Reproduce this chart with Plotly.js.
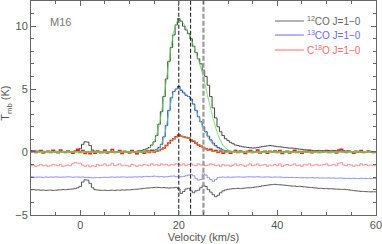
<!DOCTYPE html>
<html><head><meta charset="utf-8">
<script src="https://cdn.plot.ly/plotly-3.0.1.min.js"></script>
<style>html,body{margin:0;padding:0;background:#fff;}#chart{width:382px;height:244px;}</style>
</head><body><div id="chart"></div>
<script>
// channel grid: v = -10 + 0.5*i (km/s)
const v0 = -10, dv = 0.5;
const co12 = [
 0.05,0.04,0.03,0.05,0.04,0.02,0.03,0.02,0.0,0.01,0.02,0.03,0.02,0.0,-0.02,0.0,0.02,0.03,0.05,0.1,
 0.25,0.6,0.8,0.78,0.5,0.15,0.0,-0.05,-0.08,-0.06,-0.05,-0.05,-0.04,-0.05,-0.03,-0.03,-0.02,-0.03,-0.02,0.0,
 0.0,0.02,0.03,0.05,0.08,0.12,0.18,0.25,0.35,0.55,0.8,1.3,2.2,3.2,4.4,5.8,7.2,8.3,9.3,10.1,
 10.6,10.4,10.0,9.7,9.4,9.0,8.4,7.9,7.4,7.0,6.5,6.0,5.3,4.4,3.5,2.7,2.0,1.6,1.3,1.05,
 0.9,0.75,0.65,0.55,0.5,0.45,0.4,0.38,0.35,0.33,0.3,0.32,0.35,0.38,0.42,0.45,0.48,0.5,0.48,0.45,
 0.42,0.4,0.38,0.35,0.33,0.3,0.3,0.28,0.25,0.22,0.2,0.18,0.15,0.15,0.12,0.1,0.1,0.12,0.1,0.08,
 0.08,0.1,0.12,0.1,0.08,0.06,0.05,0.06,0.05,0.03,0.02,0.02,0.0,0.0,-0.02,-0.02,0.0,0.0,0.02,0.0,0.0];
const co13 = [
 0.1,0.08,0.07,0.05,0.06,0.05,0.04,0.05,0.03,0.04,0.05,0.03,0.02,0.04,0.03,0.02,0.03,0.02,0.04,0.03,
 0.02,0.03,0.02,0.0,0.02,0.03,0.01,0.0,0.02,0.01,-0.01,0.0,0.02,0.0,-0.02,0.0,0.01,-0.01,0.0,0.02,
 0.0,0.01,0.0,0.02,0.03,0.02,0.04,0.05,0.07,0.1,0.12,0.2,0.35,0.6,1.2,2.1,3.3,4.3,4.8,5.0,
 5.2,4.9,4.7,4.5,4.4,4.2,3.8,3.3,2.8,2.4,2.0,1.6,1.25,0.95,0.7,0.5,0.35,0.25,0.15,0.1,
 0.06,0.04,0.03,0.02,0.0,0.02,0.01,-0.02,0.0,0.03,0.05,0.02,0.0,-0.01,0.02,0.0,0.03,0.01,0.0,0.02,
 0.01,0.0,0.02,0.0,-0.01,0.01,0.0,0.02,0.0,0.01,0.03,0.0,0.02,0.01,0.0,-0.01,0.02,0.0,0.01,0.0,
 0.02,0.0,0.01,0.03,0.05,0.02,0.06,0.08,0.05,0.03,0.02,0.03,0.01,0.0,0.02,0.0,0.01,0.02,0.0,0.01,0.0];
const c18o = [
 0.0,0.05,-0.05,0.02,0.1,-0.08,0.0,0.05,-0.05,0.12,0.0,-0.06,0.15,0.02,-0.05,0.08,0.0,-0.1,0.05,0.2,
 -0.05,0.1,-0.12,0.0,-0.15,0.05,-0.1,0.08,0.0,-0.05,0.12,-0.08,0.02,0.18,-0.05,0.0,0.1,-0.12,0.05,0.0,
 -0.08,0.1,0.0,-0.15,0.05,0.0,-0.1,0.08,-0.05,0.12,0.0,0.05,0.1,0.2,0.3,0.5,0.7,0.9,1.05,1.2,
 1.35,1.25,1.2,1.15,1.1,0.95,0.85,0.7,0.55,0.45,0.35,0.25,0.15,0.2,0.05,0.1,-0.05,0.08,-0.1,0.02,
 0.05,-0.1,0.02,0.1,-0.05,0.08,0.0,-0.12,0.05,0.1,-0.05,0.0,0.15,-0.08,0.02,0.06,-0.1,0.05,0.0,0.08,
 -0.05,0.1,-0.12,0.02,0.05,-0.08,0.0,0.12,-0.05,0.03,-0.1,0.05,0.0,0.1,-0.06,0.02,0.08,-0.04,0.0,0.05,
 0.1,-0.05,0.02,0.06,-0.08,0.15,0.2,0.0,-0.05,0.08,0.02,-0.1,0.05,0.0,0.1,-0.05,0.02,0.08,0.0,-0.05,0.02];
// residuals (spectrum - fit), drawn with offsets
const res12 = [
 -3.02,-3.0,-3.03,-3.02,-3.05,-3.04,-3.06,-3.05,-3.04,-3.06,-3.05,-3.03,-3.02,-3.0,-3.01,-2.98,-2.97,-2.95,-2.92,-2.85,
 -2.75,-2.4,-2.22,-2.25,-2.5,-2.85,-3.0,-3.03,-3.05,-3.06,-3.05,-3.07,-3.06,-3.05,-3.06,-3.04,-3.05,-3.03,-3.04,-3.02,
 -3.02,-3.0,-2.98,-2.97,-2.95,-2.93,-2.9,-2.88,-2.87,-2.85,-2.83,-2.82,-2.83,-2.85,-2.84,-2.86,-2.88,-2.86,-2.85,-2.82,
 -2.95,-3.3,-3.15,-2.95,-2.9,-3.1,-3.25,-3.1,-3.05,-2.85,-2.65,-2.75,-3.0,-3.2,-3.4,-3.57,-3.45,-3.25,-3.1,-3.02,
 -2.98,-2.95,-2.93,-2.92,-2.9,-2.92,-2.9,-2.88,-2.85,-2.86,-2.83,-2.8,-2.78,-2.75,-2.7,-2.68,-2.65,-2.62,-2.6,-2.58,
 -2.6,-2.62,-2.63,-2.65,-2.67,-2.7,-2.72,-2.72,-2.75,-2.74,-2.76,-2.78,-2.8,-2.82,-2.84,-2.86,-2.88,-2.9,-2.9,-2.92,
 -2.92,-2.94,-2.93,-2.95,-2.96,-2.97,-2.98,-2.98,-3.0,-3.02,-3.05,-3.08,-3.1,-3.12,-3.14,-3.15,-3.16,-3.17,-3.18,-3.17,-3.18];
const res13 = [
 -1.98,-2.0,-2.02,-2.0,-2.01,-2.03,-2.0,-2.02,-2.0,-2.01,-1.99,-2.0,-2.02,-2.0,-2.01,-1.98,-2.0,-2.02,-2.0,-2.0,
 -2.01,-2.0,-2.03,-2.02,-2.05,-2.06,-2.05,-2.04,-2.05,-2.03,-2.02,-2.03,-2.01,-2.0,-2.02,-2.0,-2.01,-1.99,-2.0,-2.02,
 -2.0,-2.01,-1.99,-2.0,-1.98,-2.0,-1.97,-1.95,-1.97,-1.95,-1.93,-1.95,-1.98,-1.96,-2.0,-1.98,-1.95,-1.93,-1.92,-1.97,
 -2.0,-1.98,-1.95,-1.9,-1.85,-1.8,-1.9,-2.1,-2.25,-2.2,-1.75,-1.85,-2.05,-2.2,-2.35,-2.2,-2.05,-2.02,-2.0,-2.02,
 -2.0,-2.02,-2.01,-2.0,-1.99,-2.0,-2.01,-2.0,-1.99,-1.98,-1.99,-2.0,-1.98,-2.0,-2.01,-2.0,-1.99,-2.0,-2.02,-2.0,
 -2.01,-2.0,-2.02,-2.03,-2.02,-2.04,-2.03,-2.05,-2.04,-2.05,-2.06,-2.05,-2.07,-2.06,-2.05,-2.07,-2.06,-2.08,-2.07,-2.08,
 -2.08,-2.07,-2.09,-2.08,-2.1,-2.09,-2.08,-2.1,-2.11,-2.1,-2.12,-2.1,-2.11,-2.12,-2.1,-2.12,-2.11,-2.12,-2.13,-2.12,-2.12];
const res18 = [
 -1.1,-1.05,-1.15,-1.1,-1.0,-1.1,-1.05,-1.15,-1.1,-1.0,-1.05,-1.1,-1.0,-1.15,-1.1,-1.05,-1.1,-0.95,-0.85,-0.9,
 -0.9,-1.05,-1.15,-1.05,-1.2,-1.1,-1.15,-1.0,-1.1,-1.05,-0.95,-1.1,-1.05,-0.9,-1.1,-1.05,-0.95,-1.1,-1.05,-1.1,
 -1.15,-1.0,-1.05,-1.15,-1.05,-1.1,-1.0,-1.05,-1.1,-0.95,-1.05,-1.0,-1.1,-0.95,-1.05,-1.0,-1.1,-1.0,-1.05,-0.95,
 -1.0,-1.05,-0.95,-1.1,-1.0,-0.95,-1.05,-1.1,-0.95,-1.05,-1.0,-1.1,-1.05,-0.95,-1.0,-1.1,-1.05,-1.15,-1.0,-1.1,
 -1.05,-1.15,-1.05,-0.95,-1.1,-1.0,-1.05,-1.15,-1.05,-0.95,-1.1,-1.05,-0.95,-1.1,-1.05,-1.0,-1.15,-1.05,-1.1,-1.0,
 -1.1,-0.95,-1.15,-1.05,-1.0,-1.1,-1.05,-0.95,-1.1,-1.05,-1.15,-1.0,-1.05,-0.95,-1.1,-1.05,-1.0,-1.1,-1.05,-1.0,
 -0.95,-1.1,-1.05,-1.0,-1.1,-0.9,-0.85,-1.05,-1.1,-1.0,-1.05,-1.15,-1.05,-1.1,-0.95,-1.05,-1.0,-1.1,-1.05,-1.1,-1.05];
// Gaussian fits
const fit12V = [-10,11,12,13,14,15,16,17,18,19,20,21,22,23,24,25,26,27,28,29,30,31,32,60];
const fit12  = [0,0,0.02,0.1,0.3,0.8,2.1,4.4,7.2,9.6,10.6,10.2,9.4,8.4,7.3,5.9,4.2,2.6,1.3,0.5,0.15,0.03,0,0];
const fit13V = [-10,14,15,16,17,18,19,20,21,22,23,24,25,26,27,28,29,30,31,60];
const fit13  = [0,0,0.05,0.3,1.2,3.2,4.8,5.1,4.8,4.4,3.8,2.8,1.9,1.1,0.55,0.25,0.1,0.03,0,0];
const fit18V = [-10,14,15,16,17,18,19,20,21,22,23,24,25,26,27,28,60];
const fit18  = [0,0,0.02,0.1,0.3,0.7,1.05,1.25,1.2,1.1,0.9,0.6,0.35,0.15,0.05,0,0];
// velocity markers
const vLines = [20.0, 22.4, 25.0];
const legendNames = ['<sup>12</sup>CO J=1\u22120', '<sup>13</sup>CO J=1\u22120', 'C<sup>18</sup>O J=1\u22120'];
const sourceName = 'M16';
const xTicks = [0, 20, 40, 60];
const yTicks = [-5, 0, 5, 10];
const yTickText = ['\u22125', '0', '5', '10'];

const FONT = 'Liberation Sans, Arial, sans-serif';
const traces = [];
function spec(y, color, w){
  traces.push({type:'scatter', mode:'lines', x0:v0, dx:dv, y:y, line:{color:color, width:w, shape:'hvh'}, showlegend:false, hoverinfo:'skip'});
}
spec(res18, '#ff8a8a', 1);
spec(res13, '#8a8aff', 1);
spec(res12, '#555555', 1);
spec(co12, '#444444', 1);
spec(co13, '#2a2aff', 1);
spec(c18o, '#ff1a1a', 1.5);
[[fit12V,fit12],[fit13V,fit13],[fit18V,fit18]].forEach(function(f){
  traces.push({type:'scatter', mode:'lines', x:f[0], y:f[1], line:{color:'rgba(90,220,90,0.85)', width:1, shape:'spline', smoothing:0.6}, showlegend:false, hoverinfo:'skip'});
});
const yr = [-5, 12];
vLines.forEach(function(v, i){
  traces.push({type:'scatter', mode:'lines', x:[v,v], y:yr, line:{color: i===2 ? '#9a9a9a' : '#111111', width: i===2 ? 2.2 : 1, dash: i===2 ? '5px,2px' : '4px,2px'}, showlegend:false, hoverinfo:'skip'});
});

const legColors = ['#666666', '#6a6aff', '#ff6a6a'];
const legY = [0.9065, 0.841, 0.771];
const shapes = [], annotations = [];
legY.forEach(function(y, i){
  shapes.push({type:'line', xref:'paper', yref:'paper', x0:0.707, x1:0.791, y0:y, y1:y, line:{color:legColors[i], width:1}});
  annotations.push({xref:'paper', yref:'paper', x:0.794, y:y, xanchor:'left', yanchor:'middle', text:legendNames[i], showarrow:false, font:{family:FONT, size:10, color:legColors[i]}});
});
annotations.push({xref:'paper', yref:'paper', x:0.049, y:0.90, xanchor:'left', yanchor:'middle', text:sourceName, showarrow:false, font:{family:FONT, size:11, color:'#777777'}});
annotations.push({xref:'paper', yref:'paper', x:0, y:0.52, xshift:-25, xanchor:'center', yanchor:'middle', textangle:-90, text:'T<sub>mb</sub> (K)', showarrow:false, font:{family:FONT, size:11, color:'#555555'}});

const axBase = {showline:true, linecolor:'#666666', linewidth:1, mirror:'ticks', ticks:'inside', ticklen:5, tickcolor:'#666666', showgrid:false, zeroline:false, ticklabeloverflow:'allow', tickfont:{family:FONT, size:11, color:'#555555'}};
const layout = {
  width:382, height:244, margin:{l:31, r:6, t:1, b:29},
  paper_bgcolor:'#ffffff', plot_bgcolor:'#ffffff', showlegend:false,
  xaxis: Object.assign({}, axBase, {range:[-10,60.02], tickvals:xTicks, minor:{dtick:5, tick0:0, ticks:'inside', ticklen:3, tickcolor:'#666666'}, title:{text:'Velocity (km/s)', font:{family:FONT, size:11, color:'#555555'}, standoff:2}}),
  yaxis: Object.assign({}, axBase, {range:[-5.02, 12], tickvals:yTicks, ticktext:yTickText, minor:{dtick:1, tick0:0, ticks:'inside', ticklen:3, tickcolor:'#666666'}}),
  shapes: shapes, annotations: annotations
};
Plotly.newPlot('chart', traces, layout, {staticPlot:true, displayModeBar:false});
</script></body></html>
